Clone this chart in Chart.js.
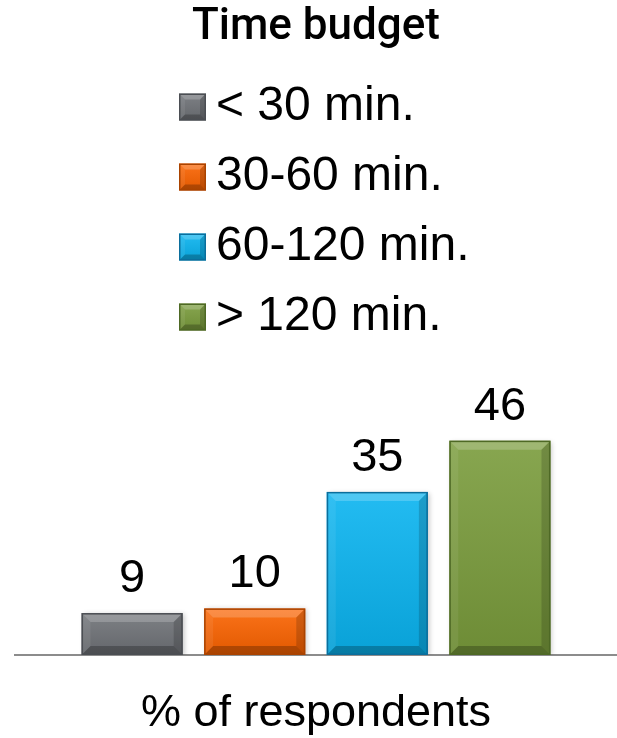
<!DOCTYPE html>
<html>
<head>
<meta charset="utf-8">
<title>Time budget</title>
<script src="https://cdn.jsdelivr.net/npm/chart.js@4.4.1/dist/chart.umd.min.js"></script>
<style>
  html, body { margin: 0; padding: 0; background: #ffffff; }
  #wrap { width: 617px; height: 738px; position: relative; }
</style>
</head>
<body>
<div id="wrap"><canvas id="chart"></canvas></div>
<script>
// Survey answers: share of respondents per time budget
const categories = [''];
const seriesLabels = ['< 30 min.', '30-60 min.', '60-120 min.', '> 120 min.'];
const seriesValues = [9, 10, 35, 46];
const chartTitle = 'Time budget';
const axisTitle = '% of respondents';

// Face and edge colours for each series
const faceColors = ['#6f7277', '#fb6300', '#0ab4f0', '#7a9c3c'];
const edgeColors = ['#4b4e53', '#a94300', '#0b6e9c', '#4e6925'];

const FONT = 'Liberation Sans';
Chart.defaults.font.family = FONT;
Chart.defaults.color = '#000000';

// Draws a raised, bevelled look over a rectangle
function drawBevel(ctx, l, t, r, b, s, edge) {
  ctx.save();
  const shade = ctx.createLinearGradient(0, t, 0, b);
  shade.addColorStop(0, 'rgba(255,255,255,0.10)');
  shade.addColorStop(1, 'rgba(0,0,0,0.10)');
  ctx.fillStyle = shade;
  ctx.fillRect(l, t, r - l, b - t);
  const poly = (pts, fill) => {
    ctx.beginPath();
    ctx.moveTo(pts[0][0], pts[0][1]);
    for (let k = 1; k < pts.length; k++) ctx.lineTo(pts[k][0], pts[k][1]);
    ctx.closePath();
    ctx.fillStyle = fill;
    ctx.fill();
  };
  poly([[l, t], [r, t], [r - s, t + s], [l + s, t + s]], 'rgba(255,255,255,0.20)');
  poly([[l, t], [l + s, t + s], [l + s, b - s], [l, b]], 'rgba(255,255,255,0.07)');
  poly([[r, t], [r, b], [r - s, b - s], [r - s, t + s]], 'rgba(0,0,0,0.16)');
  poly([[l, b], [r, b], [r - s, b - s], [l + s, b - s]], 'rgba(0,0,0,0.24)');
  ctx.strokeStyle = edge;
  ctx.lineWidth = 1.5;
  ctx.strokeRect(l + 0.75, t + 0.75, r - l - 1.5, b - t - 1.5);
  ctx.restore();
}

// Soft shadow under the bars, bevel on top, value above each bar
const barDecor = {
  id: 'barDecor',
  beforeDatasetsDraw(chart) {
    const ctx = chart.ctx;
    ctx.save();
    ctx.shadowColor = 'rgba(0,0,0,0.22)';
    ctx.shadowBlur = 5;
    ctx.shadowOffsetX = 2;
    ctx.shadowOffsetY = 1;
  },
  afterDatasetsDraw(chart) {
    const ctx = chart.ctx;
    ctx.restore();
    chart.data.datasets.forEach((ds, i) => {
      const meta = chart.getDatasetMeta(i);
      meta.data.forEach((bar, j) => {
        const p = bar.getProps(['x', 'y', 'base', 'width'], true);
        const l = p.x - p.width / 2, r = p.x + p.width / 2;
        drawBevel(ctx, l, p.y, r, p.base, 9, edgeColors[i]);
        ctx.save();
        ctx.font = '47px "' + FONT + '"';
        ctx.fillStyle = '#000000';
        ctx.textAlign = 'center';
        ctx.textBaseline = 'alphabetic';
        ctx.fillText(String(ds.data[j]), p.x, p.y - 21);
        ctx.restore();
      });
    });
  }
};

// Single-column legend with bevelled swatches under the title
const swatchLegend = {
  id: 'swatchLegend',
  afterDraw(chart) {
    const ctx = chart.ctx;
    const boxLeft = 179, box = 27, textX = 216, firstY = 107, step = 70;
    chart.data.datasets.forEach((ds, i) => {
      const cy = firstY + step * i;
      const t = cy - box / 2;
      ctx.save();
      ctx.fillStyle = ds.backgroundColor;
      ctx.fillRect(boxLeft, t, box, box);
      ctx.restore();
      drawBevel(ctx, boxLeft, t, boxLeft + box, t + box, 6, ds.borderColor);
      ctx.save();
      ctx.font = '48px "' + FONT + '"';
      ctx.fillStyle = '#000000';
      ctx.textAlign = 'left';
      ctx.textBaseline = 'middle';
      ctx.fillText(ds.label, textX, cy);
      ctx.restore();
    });
  }
};

const datasets = seriesLabels.map((label, i) => ({
  label: label,
  data: [seriesValues[i]],
  backgroundColor: faceColors[i],
  borderColor: edgeColors[i],
  borderWidth: 0,
  borderSkipped: false,
  categoryPercentage: 0.8146,
  barPercentage: 0.825
}));

new Chart(document.getElementById('chart'), {
  type: 'bar',
  data: { labels: categories, datasets: datasets },
  options: {
    responsive: true,
    maintainAspectRatio: false,
    animation: false,
    layout: { padding: { left: 15, right: 0, top: 0, bottom: 0 } },
    plugins: {
      legend: { display: false },
      tooltip: { enabled: false },
      title: {
        display: true,
        text: chartTitle,
        color: '#000000',
        font: { family: 'Roboto', size: 44, weight: '500', lineHeight: 1.2 },
        padding: { top: 1.6, bottom: 367.6 }
      }
    },
    scales: {
      x: {
        type: 'category',
        grid: { display: false, drawTicks: false, tickLength: 0 },
        border: { display: true, color: '#8c8c8c', width: 2 },
        ticks: { display: false },
        title: {
          display: true,
          text: axisTitle,
          color: '#000000',
          font: { family: FONT, size: 45, lineHeight: 1 },
          padding: { top: 36.5, bottom: 1.5 }
        }
      },
      y: {
        display: false,
        min: 0,
        max: 50
      }
    }
  },
  plugins: [barDecor, swatchLegend]
});
</script>
</body>
</html>
